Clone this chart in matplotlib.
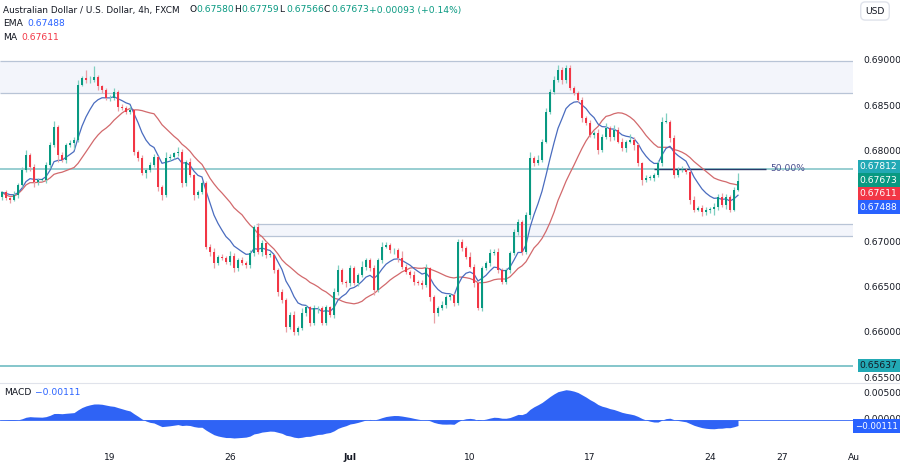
import numpy as np
import pandas as pd
import matplotlib
matplotlib.use("Agg")
import matplotlib.pyplot as plt
from matplotlib.patches import Rectangle

closes = [
 .6755,.6749,.6747,.6752,.6763,.6780,.6796,.6783,.6766,.6769,.6769,.6785,.6807,.6827,.6796,.6791,.6807,.6809,.6813,.6874,
 .6881,.6879,.6879,.6882,.6872,.6868,.6859,.6859,.6866,.6849,.6848,.6844,.6846,.6800,
 .6793,.6776,.6780,.6785,.6794,.6761,.6752,.6793,.6794,.6798,.6800,.6765,.6789,.6774,.6752,.6755,.6765,.6695,.6689,.6677,
 .6684,.6683,.6678,.6685,.6671,.6680,.6677,.6675,.6688,.6717,.6689,.6699,.6686,.6686,.6669,.6645,.6636,.6606,.6620,.6601,
 .6605,.6622,.6628,.6611,.6627,.6627,.6611,
 .6628,.6620,.6645,.6669,.6656,.6655,.6671,.6655,.6664,.6673,.6680,.6671,.6647,.6680,.6695,.6697,.6691,.6691,.6683,.6673,
 .6667,.6664,.6656,.6655,.6653,.6671,.6639,.6622,.6627,.6631,.6639,.6642,.6633,.6700,.6694,.6684,.6673,.6655,.6627,.6671,
 .6677,.6688,.6689,.6669,.6656,.6669,.6688,.6711,.6722,
 .6689,.6730,.6793,.6787,.6791,.6811,.6844,.6866,.6879,.6890,.6879,.6892,.6870,.6865,.6857,.6837,.6832,.6818,.6821,.6802,
 .6816,.6826,.6816,.6824,.6811,.6804,.6811,.6813,.6807,.6787,.6769,.6771,
 .6771,.6774,.6787,.6833,.6833,.6815,.6774,.6780,.6780,.6777,.6747,.6736,.6738,.6733,.6736,.6737,.6739,.6750,.6741,.6750,
 .6736,.6758,.67673]
first_open = 0.6750
wick_up = [2,3,1,4,2,3,6,2,3,2,1,4,3,7,2,3,2,4,3,5,
           2,9,4,12,3,2,2,3,4,2,3,2,4,1,
           2,3,2,4,3,1,2,6,3,2,5,3,2,4,1,3,2,2,3,4,
           2,3,2,5,3,2,4,2,3,2,4,3,2,3,1,2,3,2,3,4,
           2,5,3,2,4,3,2,
           3,2,4,6,3,2,4,3,2,6,3,2,4,3,5,3,2,3,2,7,
           3,2,4,2,3,5,2,3,2,4,3,2,2,4,3,2,5,3,2,3,
           2,4,3,5,2,3,2,3,4,
           2,3,6,2,5,3,4,3,4,5,3,3,4,2,2,3,2,3,2,4,
           3,6,2,5,3,4,2,6,3,2,2,3,
           3,2,4,5,10,2,3,3,4,2,3,4,2,3,3,2,4,3,4,3,
           2,3,9]
wick_dn = [3,2,4,2,3,2,3,4,5,3,2,4,3,2,8,3,4,2,6,3,
           2,3,3,2,4,3,2,3,2,4,2,3,3,4,
           3,2,5,3,2,4,5,2,3,2,3,4,3,2,6,3,2,3,4,5,
           2,3,2,3,4,3,2,3,4,3,2,4,3,2,3,4,3,5,2,4,
           3,2,3,4,2,5,3,
           2,3,4,3,2,5,3,2,3,2,4,3,5,2,3,2,3,4,5,3,
           2,4,3,2,5,3,4,11,3,2,4,3,3,2,4,3,2,5,2,3,
           2,3,2,3,2,2,3,2,3,
           3,2,4,3,2,3,2,2,3,2,4,3,2,3,2,4,3,2,3,5,
           3,2,4,3,2,3,4,2,5,3,6,3,
           2,3,2,3,2,4,3,2,3,2,5,3,2,4,3,4,7,3,2,4,
           3,2,1]
macd_label = "-0.00111"
right_levels = [0.67812, 0.67673, 0.67611, 0.67488]
right_colors = ["#22a9b5", "#089981", "#f23645", "#2962ff"]
ytick_vals = [0.655, 0.660, 0.665, 0.670, 0.675, 0.680, 0.685, 0.690]
fib_level = 0.67812
low_level = 0.65637
band_top = (0.6900, 0.68646)
band_mid = (0.67200, 0.67068)
macd_ticks = [0.0, 0.005]
ohlc_head = [("O", "0.67580"), ("H", "0.67759"), ("L", "0.67566"), ("C", "0.67673")]

n = len(closes)
c = np.array(closes)
o = np.concatenate([[first_open], c[:-1]])
o[-1] = 0.67580
h = np.maximum(o, c) + np.array(wick_up) * 1e-4
l = np.minimum(o, c) - np.array(wick_dn) * 1e-4
h[-1], l[-1] = 0.67759, 0.67566

s = pd.Series(c)
ema = s.ewm(span=9, adjust=False).mean()
ma = s.rolling(20, min_periods=1).mean()
macd = s.ewm(span=12, adjust=False).mean() - s.ewm(span=26, adjust=False).mean()

ts = pd.date_range("2023-06-12 12:00", periods=400, freq="4h")
ts = ts[ts.dayofweek < 5][:215]

W, H = 900, 468
FS = 6.6
fig = plt.figure(figsize=(9, 4.68), dpi=100)
fig.patch.set_facecolor("white")
axw = 853 / W
ax = fig.add_axes([0, 1 - 383 / H, axw, 383 / H])
ax2 = fig.add_axes([0, 1 - 445 / H, axw, 62 / H])
x = np.arange(n)
xl = (-0.5, 212.75)
ylo, yhi = 0.65445, 0.69673
for a in (ax, ax2):
    a.set_xlim(*xl)
    for sp in a.spines.values():
        sp.set_visible(False)
    a.set_xticks([]); a.set_yticks([])
ax.set_ylim(ylo, yhi)

for (t, b), x0 in ((band_top, -0.5), (band_mid, 63.5)):
    ax.add_patch(Rectangle((x0, b), xl[1] - x0, t - b, facecolor="#f3f5fb", edgecolor="none", zorder=0))
    ax.hlines([t, b], x0, xl[1], color="#b8c4d6", lw=0.9, zorder=1)
ax.axhline(fib_level, color="#86c6c9", lw=1.2, zorder=1)
ax.axhline(low_level, color="#6fbcc2", lw=1.2, zorder=1)
ax.hlines(fib_level, 163, 191, color="#2a3a6a", lw=1.0, zorder=2)
ax.text(192, fib_level, "50.00%", color="#4a4f8f", fontsize=FS, va="center", ha="left")

ax.plot(x, ma, color="#d2696c", lw=0.9, zorder=3)
ax.plot(x, ema, color="#4a6cbf", lw=0.9, zorder=3)
up = c >= o
col = np.where(up, "#089981", "#f23645")
wcol = np.where(up, "#7fcfc0", "#e9a0a6")
ax.vlines(x, l, h, color=wcol, lw=0.9, zorder=4)
ax.bar(x, np.maximum(np.abs(c - o), 0.00004), bottom=np.minimum(o, c), width=0.65, color=col, zorder=5)

tr = ax.get_yaxis_transform()
for v in ytick_vals:
    ax.text(1.012, v, f"{v:.5f}", transform=tr, fontsize=FS, color="#131722", va="center", ha="left", clip_on=False)
label_pos = [0.67835, 0.67685, 0.67535, 0.67385]
for v, pv, colr in zip(right_levels, label_pos, right_colors):
    ax.text(1.008, pv, f"{v:.5f}", transform=tr, fontsize=FS, color="white", va="center", ha="left", zorder=10,
            bbox=dict(boxstyle="square,pad=0.25", fc=colr, ec="none"), clip_on=False)
ax.text(1.008, low_level, f"{low_level:.5f}", transform=tr, fontsize=FS, color="#131722", va="center", ha="left",
        bbox=dict(boxstyle="square,pad=0.25", fc="#22a9b5", ec="none"), clip_on=False)

ax2.set_ylim(-0.0048, 0.0070)
ax2.fill_between(x, 0, macd, color="#2f63f5", lw=0)
ax2.axhline(0, color="#2f63f5", lw=0.6)
tr2 = ax2.get_yaxis_transform()
for v in macd_ticks:
    ax2.text(1.012, v, f"{v:.5f}", transform=tr2, fontsize=FS, color="#131722", va="center", ha="left", clip_on=False)
ax2.text(1.003, -0.0012, macd_label.replace("-", "\u2212"), transform=tr2, fontsize=6.2, color="white", va="center",
         ha="left", zorder=10, bbox=dict(boxstyle="square,pad=0.25", fc="#2962ff", ec="none"), clip_on=False)
ax2.text(0.005, 0.85, "MACD", transform=ax2.transAxes, fontsize=FS, color="#131722", va="center")
ax2.text(0.041, 0.85, macd_label.replace("-", "\u2212"), transform=ax2.transAxes, fontsize=FS, color="#2962ff", va="center")
fig.add_artist(plt.Line2D([0, 1], [1 - 383 / H, 1 - 383 / H], color="#e0e3eb", lw=0.8))

last_t = ts[n - 1]
for i, t in enumerate(ts):
    if t.hour != 0:
        continue
    lab, bold = None, False
    if t.dayofweek == 0 and t <= last_t:
        lab = str(t.day)
    if t.month == 7 and t.day == 27:
        lab = "27"
    if t.month == 7 and t.day == 3:
        lab, bold = "Jul", True
    if t.month == 8 and t.day == 1:
        lab = "Au"
    if lab:
        fx = (i - xl[0]) / (xl[1] - xl[0]) * axw
        fig.text(fx, 1 - 458 / H, lab, fontsize=FS, color="#131722", ha="center", va="center",
                 fontweight="bold" if bold else "normal")

fig.text(3 / W, 1 - 10 / H, "Australian Dollar / U.S. Dollar, 4h, FXCM", fontsize=6.4, color="#131722", va="center")
for k, (lbl, val) in enumerate(ohlc_head):
    hx = (189 + 45 * k) / W
    fig.text(hx, 1 - 10 / H, lbl, fontsize=FS, color="#131722", va="center")
    fig.text(hx + 7 / W, 1 - 10 / H, val, fontsize=FS, color="#089981", va="center")
fig.text(369 / W, 1 - 10 / H, "+0.00093 (+0.14%)", fontsize=FS, color="#089981", va="center")
fig.text(3 / W, 1 - 24 / H, "EMA", fontsize=FS, color="#131722", va="center")
fig.text(27 / W, 1 - 24 / H, "0.67488", fontsize=FS, color="#2962ff", va="center")
fig.text(3 / W, 1 - 38 / H, "MA", fontsize=FS, color="#131722", va="center")
fig.text(21 / W, 1 - 38 / H, "0.67611", fontsize=FS, color="#f23645", va="center")
fig.text(875 / W, 1 - 11 / H, "USD", fontsize=FS, color="#131722", va="center", ha="center",
         bbox=dict(boxstyle="round,pad=0.5", fc="white", ec="#e0e3eb"))

fig.savefig("out.png", dpi=100, facecolor="white")
